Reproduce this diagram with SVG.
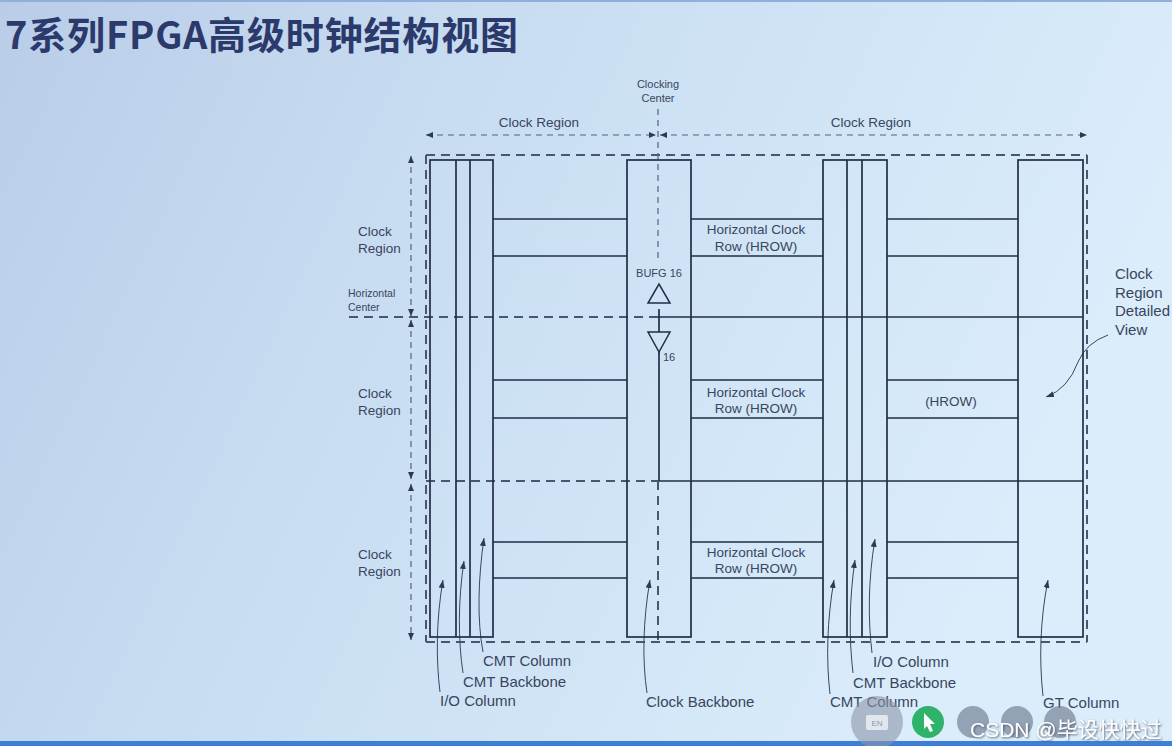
<svg xmlns="http://www.w3.org/2000/svg" width="1172" height="746" viewBox="0 0 1172 746">
<defs>
<linearGradient id="bg" x1="0" y1="0" x2="1" y2="0.3">
<stop offset="0" stop-color="#b9cde8"/>
<stop offset="0.45" stop-color="#cadef3"/>
<stop offset="1" stop-color="#dbedfb"/>
</linearGradient>
<marker id="ah" viewBox="0 0 8 6" refX="8" refY="3" markerWidth="8" markerHeight="6" markerUnits="userSpaceOnUse" orient="auto">
<path d="M0,0 L8,3 L0,6 z" fill="#2e3a52"/>
</marker>
<marker id="dim" viewBox="0 0 7 6" refX="7" refY="3" markerWidth="7" markerHeight="6" markerUnits="userSpaceOnUse" orient="auto-start-reverse">
<path d="M0,0 L7,3 L0,6 z" fill="#2e3a52"/>
</marker>
<filter id="shadow" x="-5%" y="-30%" width="110%" height="160%">
<feDropShadow dx="1" dy="1" stdDeviation="0.8" flood-color="#4a5366" flood-opacity="0.9"/>
</filter>
</defs>
<style>
.solid{stroke:#222d45;stroke-width:1.7;fill:none}
.box{stroke:#222d45;stroke-width:1.7;fill:none}
.dash{stroke:#4a566e;stroke-width:2;stroke-dasharray:9 6;fill:none}
.tdash{stroke:#55617a;stroke-width:1.2;stroke-dasharray:6 5;fill:none}
.dimln{stroke:#55617a;stroke-width:1.2;stroke-dasharray:6 5;fill:none;marker-start:url(#dim);marker-end:url(#dim)}
.lead{stroke:#3a465e;stroke-width:1;fill:none;marker-end:url(#ah)}
.t{font-family:"Liberation Sans",Arial,sans-serif;fill:#38455d}
.s13{font-size:13.5px}
.s15{font-size:15px}
.s11{font-size:11px}
.mid{text-anchor:middle}
</style>
<rect x="0" y="0" width="1172" height="746" fill="url(#bg)"/>
<rect x="0" y="0" width="1172" height="2" fill="#90b0dc"/>
<rect x="0" y="741" width="1172" height="5" fill="#3d7fd8"/>

<text x="5" y="49" font-family="Noto Sans CJK SC, sans-serif" font-weight="bold" font-size="38" fill="#2b3a6b" textLength="513" lengthAdjust="spacing">7系列FPGA高级时钟结构视图</text>

<g id="outer-frame">
<line class="dash" x1="426" y1="155" x2="1087" y2="155"/>
<line class="dash" x1="426" y1="642" x2="1087" y2="642"/>
<line class="dash" x1="426" y1="155" x2="426" y2="642"/>
<line class="dash" x1="1087" y1="155" x2="1087" y2="642"/>
</g>

<g id="connectors">
<line class="dimln" x1="426" y1="135" x2="656" y2="135"/>
<line class="dimln" x1="660" y1="135" x2="1087" y2="135"/>
<line class="dimln" x1="411" y1="156" x2="411" y2="316"/>
<line class="dimln" x1="411" y1="320" x2="411" y2="479"/>
<line class="dimln" x1="411" y1="484" x2="411" y2="640"/>
<line class="dash" x1="349" y1="317" x2="658" y2="317"/>
<line class="solid" x1="658" y1="317" x2="1083" y2="317"/>
<line class="dash" x1="426" y1="481" x2="658" y2="481"/>
<line class="solid" x1="658" y1="481" x2="1083" y2="481"/>
<line class="tdash" x1="658" y1="109" x2="658" y2="262"/>
<line class="solid" x1="659" y1="309" x2="659" y2="332"/>
<line class="solid" x1="659" y1="352" x2="659" y2="481"/>
<line class="dash" x1="658" y1="481" x2="658" y2="642"/>
<path class="lead" d="M440,692 C436,660 436,620 443,580"/>
<path class="lead" d="M463,673 C458,640 458,600 464,561"/>
<path class="lead" d="M483,652 C477,620 478,580 484,538"/>
<path class="lead" d="M647,693 C642,660 643,620 650,580"/>
<path class="lead" d="M830,694 C826,660 827,620 834,580"/>
<path class="lead" d="M853,673 C849,640 849,600 855,560"/>
<path class="lead" d="M872,653 C868,620 868,580 875,539"/>
<path class="lead" d="M1043,696 C1039,660 1040,620 1048,580"/>
<path class="lead" d="M1108,335 Q1086,343 1078,362 Q1068,389 1046,397"/>
</g>

<g id="left-columns">
<rect class="box" x="430" y="160" width="63" height="477"/>
<line class="solid" x1="456" y1="160" x2="456" y2="637"/>
<line class="solid" x1="470" y1="160" x2="470" y2="637"/>
</g>
<g id="clock-backbone">
<rect class="box" x="627" y="160" width="64" height="477"/>
</g>
<g id="right-columns">
<rect class="box" x="823" y="160" width="64" height="477"/>
<line class="solid" x1="847" y1="160" x2="847" y2="637"/>
<line class="solid" x1="862" y1="160" x2="862" y2="637"/>
</g>
<g id="gt-column">
<rect class="box" x="1018" y="160" width="65" height="477"/>
</g>

<g id="hrow-1">
<path class="solid" d="M493,219H627M493,256H627M691,219H823M691,256H823M887,219H1018M887,256H1018"/>
<text class="t s13 mid" x="756" y="234">Horizontal Clock</text>
<text class="t s13 mid" x="756" y="251">Row (HROW)</text>
</g>
<g id="hrow-2">
<path class="solid" d="M493,380H627M493,418H627M691,380H823M691,418H823M887,380H1018M887,418H1018"/>
<text class="t s13 mid" x="756" y="397">Horizontal Clock</text>
<text class="t s13 mid" x="756" y="413">Row (HROW)</text>
<text class="t s13 mid" x="951" y="406">(HROW)</text>
</g>
<g id="hrow-3">
<path class="solid" d="M493,542H627M493,578H627M691,542H823M691,578H823M887,542H1018M887,578H1018"/>
<text class="t s13 mid" x="756" y="557">Horizontal Clock</text>
<text class="t s13 mid" x="756" y="573">Row (HROW)</text>
</g>

<g id="bufg">
<text class="t s11 mid" x="659" y="277">BUFG 16</text>
<polygon points="648,303 670,303 659,284" fill="none" stroke="#222d45" stroke-width="1.5"/>
<polygon points="648,332 670,332 659,352" fill="none" stroke="#222d45" stroke-width="1.5"/>
<text class="t s11" x="663" y="361">16</text>
</g>

<g id="labels">
<text class="t s11 mid" x="658" y="88">Clocking</text>
<text class="t s11 mid" x="658" y="102">Center</text>
<text class="t s13 mid" x="539" y="127">Clock Region</text>
<text class="t s13 mid" x="871" y="127">Clock Region</text>
<text class="t s13" x="358" y="236">Clock</text>
<text class="t s13" x="358" y="253">Region</text>
<text class="t" font-size="10.5" x="348" y="297">Horizontal</text>
<text class="t" font-size="10.5" x="348" y="311">Center</text>
<text class="t s13" x="358" y="398">Clock</text>
<text class="t s13" x="358" y="415">Region</text>
<text class="t s13" x="358" y="559">Clock</text>
<text class="t s13" x="358" y="576">Region</text>
<text class="t s15" x="1115" y="279">Clock</text>
<text class="t s15" x="1115" y="298">Region</text>
<text class="t s15" x="1115" y="316">Detailed</text>
<text class="t s15" x="1115" y="335">View</text>
<text class="t s15" x="483" y="666">CMT Column</text>
<text class="t s15" x="463" y="687">CMT Backbone</text>
<text class="t s15" x="440" y="706">I/O Column</text>
<text class="t s15" x="646" y="707">Clock Backbone</text>
<text class="t s15" x="873" y="667">I/O Column</text>
<text class="t s15" x="853" y="688">CMT Backbone</text>
<text class="t s15" x="830" y="707">CMT Column</text>
<text class="t s15" x="1043" y="708">GT Column</text>
</g>

<g id="overlay">
<circle cx="877" cy="722" r="26" fill="#8c96a8" opacity="0.6"/>
<rect x="866" y="715" width="22" height="15" rx="2" fill="#e8ecf2" opacity="0.9"/>
<text x="877" y="726" font-family="Liberation Sans, sans-serif" font-size="8" fill="#8c96a8" text-anchor="middle">EN</text>
<circle cx="928" cy="722" r="16" fill="#2fb36b"/>
<polygon points="924,713 935,724 930,724 933,731 930,732 927,726 924,729" fill="#ffffff"/>
<circle cx="973" cy="722" r="16" fill="#6e7990" opacity="0.65"/>
<circle cx="1017" cy="722" r="16" fill="#6e7990" opacity="0.65"/>
<circle cx="1060" cy="722" r="16" fill="#6e7990" opacity="0.65"/>
<text x="970" y="737" font-family="Liberation Sans, Noto Sans CJK SC, sans-serif" font-size="21" fill="#ffffff" filter="url(#shadow)">CSDN @毕设快快过</text>
</g>
</svg>
